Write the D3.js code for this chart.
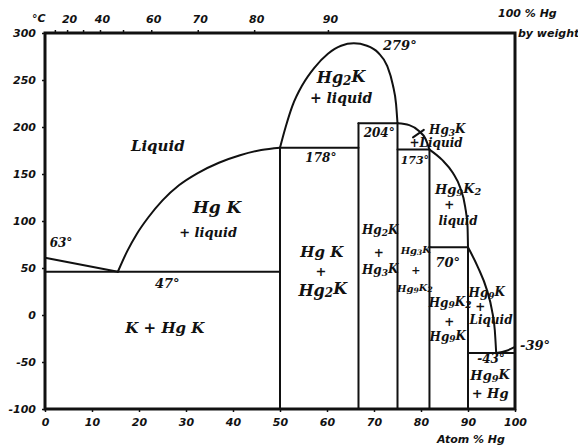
<!DOCTYPE html>
<html>
<head>
<meta charset="utf-8">
<script src="https://cdn.jsdelivr.net/npm/d3@7"></script>
<style>
	body { margin: 0; background: #fff; }
	svg text { font-family: "DejaVu Serif", serif; font-style: italic; font-weight: bold; fill: #111; }
	.tick text, .axis-note { font-family: "DejaVu Sans", sans-serif; font-size: 11px; }
	.phase { fill: none; stroke: #111; stroke-width: 2; stroke-linejoin: round; stroke-linecap: round; }
</style>
</head>
<body>
<svg width="578" height="447"></svg>
<script>
/*
 * K - Hg phase diagram. Composition in atom % Hg on the x axis,
 * temperature in degrees C on the y axis, weight % Hg along the top.
 */
const atomTicks = [0, 10, 20, 30, 40, 50, 60, 70, 80, 90, 100];
const tempTicks = [-100, -50, 0, 50, 100, 150, 200, 250, 300];
const weightTicks = [10, 20, 30, 40, 50, 60, 70, 80, 90];
const weightTickAtom = [2.1, 4.7, 8.1, 11.7, 16.6, 22.6, 32.5, 44.5, 60.2];	// where each weight % falls in atom %
const weightLabeled = [20, 40, 60, 70, 80, 90];

// compounds: composition and the temperature where their vertical line stops
const compoundAtom = [50, 66.7, 75, 81.8, 90];		// HgK, Hg2K, Hg3K, Hg9K2, Hg9K
const compoundTop = [178, 204, 204, 176, 72];

// horizontal (invariant) lines: [from %, to %, temperature]
const invariants = [[0, 50, 46], [50, 66.7, 178], [66.7, 75, 204], [75, 81.8, 176], [81.8, 90, 72], [90, 100, -40.5]];

// curves, each as [atom %, temperature]
const kLiquidus = [[0, 61], [15.5, 46]];
const hgkLiquidus = [[15.5, 46], [17.5, 68], [19.5, 86], [22, 104], [25, 122], [28.5, 138], [32.5, 151], [37, 162],
	[41.5, 170], [46, 175.5], [50, 178]];
const hg2kDome = [[50, 178], [51.2, 200], [52.6, 222], [54.8, 245], [57.3, 263], [60.2, 278], [63, 286.5], [65.7, 289],
	[68.5, 286.5], [70.9, 279], [72.8, 265], [74, 245], [74.7, 224], [75, 204]];
const hg3kLiquidus = [[75, 204], [77.5, 202], [79.5, 196], [81, 187], [81.8, 176]];
const hg9k2Liquidus = [[81.8, 176], [84.5, 165], [86.8, 151], [88.3, 136], [89.4, 115], [89.9, 94], [90, 72]];
const hg9kLiquidus = [[90, 72], [92.1, 51], [94, 27], [95.1, 5], [95.7, -16], [96, -40.5]];
const hgLiquidus = [[96, -40.5], [98.2, -38], [100, -34]];

// labels inside the diagram: text, atom %, temperature, font size ("_n" marks a subscript)
const labels = [
	["Liquid", 24, 180, 15],
	["Hg K", 36.6, 115, 17],
	["+ liquid", 34.7, 88, 13],
	["63°", 3.4, 76.6, 12],
	["47°", 26, 34, 13],
	["K  +  Hg K", 25.5, -14, 15],
	["Hg_2K", 63, 253, 16],
	["+ liquid", 63, 231, 14],
	["279°", 75.5, 287, 13],
	["204°", 71.1, 194, 12],
	["178°", 58.7, 167, 12],
	["173°", 78.7, 165, 11],
	["Hg_3K", 85.6, 197, 12],
	["+Liquid", 83.2, 183, 12],
	["Hg_9K_2", 87.9, 134, 13],
	["+", 86, 117, 12],
	["liquid", 87.9, 100, 12],
	["70°", 85.7, 56, 13],
	["Hg K", 58.9, 67, 15],
	["+", 58.7, 47, 13],
	["Hg_2K", 59.1, 27, 16],
	["Hg_2K", 71.3, 90, 12],
	["+", 71, 66, 12],
	["Hg_3K", 71.3, 48, 12],
	["Hg_3K", 78.9, 69, 10],
	["+", 78.9, 48, 11],
	["Hg_9K_2", 78.7, 29, 10],
	["Hg_9K_2", 86.2, 13, 12],
	["+", 86, -7, 12],
	["Hg_9K", 85.7, -23, 12],
	["Hg_9K", 94, 23, 12],
	["+", 92.6, 8.5, 12],
	["Liquid", 94.9, -5, 12],
	["-43°", 94.9, -47, 12],
	["Hg_9K", 94.7, -64, 13],
	["+ Hg", 94.7, -83, 13]
];

document.addEventListener("DOMContentLoaded", function() {
	renderDiagram();
});

function renderDiagram() {
	const svg = d3.select("svg");

	const x = d3.scaleLinear().domain([0, 100]).range([45, 515]);
	const y = d3.scaleLinear().domain([-100, 300]).range([409, 33]);

	// every curve runs left to right, so a monotone curve keeps them smooth
	const line = d3.line()
		.x(d => x(d[0]))
		.y(d => y(d[1]))
		.curve(d3.curveMonotoneX);

	// axes (tick marks and labels only; the frame is drawn on its own)
	const bottom = svg.append("g")
		.attr("transform", `translate(0, ${y(-100)})`)
		.call(d3.axisBottom(x).tickValues(atomTicks).tickSize(3).tickPadding(6));

	const left = svg.append("g")
		.attr("transform", `translate(${x(0)}, 0)`)
		.call(d3.axisLeft(y).tickValues(tempTicks).tickSize(3).tickPadding(6)
			.tickFormat(d => d < 0 ? "-" + Math.abs(d) : d));

	const top = svg.append("g")
		.attr("transform", `translate(0, ${y(300)})`)
		.call(d3.axisTop(x).tickValues(weightTickAtom).tickSize(3).tickPadding(7)
			.tickFormat((d, i) => weightLabeled.includes(weightTicks[i]) ? weightTicks[i] : ""));

	[bottom, left, top].forEach(g => {
		g.select(".domain").remove();
		g.selectAll(".tick line").attr("stroke", "#111").attr("stroke-width", 1.5);
		g.selectAll(".tick text").attr("fill", "#111");
	});
	top.selectAll(".tick text").attr("dx", 2);

	// frame
	svg.append("rect")
		.attr("x", x(0))
		.attr("y", y(300))
		.attr("width", x(100) - x(0))
		.attr("height", y(-100) - y(300))
		.attr("fill", "none")
		.attr("stroke", "#111")
		.attr("stroke-width", 3);

	// compound verticals
	compoundAtom.forEach((c, i) => {
		svg.append("path")
			.attr("class", "phase")
			.attr("d", d3.line()([[x(c), y(-100)], [x(c), y(compoundTop[i])]]));
	});

	// invariant horizontals
	invariants.forEach(h => {
		svg.append("path")
			.attr("class", "phase")
			.attr("d", d3.line()([[x(h[0]), y(h[2])], [x(h[1]), y(h[2])]]));
	});

	// liquidus curves
	[kLiquidus, hgkLiquidus, hg2kDome, hg3kLiquidus, hg9k2Liquidus, hg9kLiquidus, hgLiquidus].forEach(c => {
		svg.append("path")
			.attr("class", "phase")
			.attr("d", line(c));
	});

	// leader from the Hg3K label into its small region
	svg.append("path")
		.attr("class", "phase")
		.attr("stroke-width", 1.3)
		.attr("d", d3.line()([[x(78.3), y(189)], [x(80.6), y(197)]]));

	// region labels
	labels.forEach(l => {
		const t = svg.append("text")
			.attr("x", x(l[1]))
			.attr("y", y(l[2]))
			.attr("text-anchor", "middle")
			.attr("dominant-baseline", "central")
			.attr("font-size", l[3]);
		addFormula(t, l[0]);
	});

	// -39° sits outside the frame, left aligned
	svg.append("text")
		.attr("x", x(100) + 5)
		.attr("y", y(-32))
		.attr("dominant-baseline", "central")
		.attr("font-size", 13)
		.text("-39°");

	// axis notes
	svg.append("text").attr("class", "axis-note").attr("x", 32).attr("y", 22).attr("font-size", 11).text("°C");
	svg.append("text").attr("class", "axis-note").attr("x", 498).attr("y", 17).attr("font-size", 11).text("100 % Hg");
	svg.append("text").attr("class", "axis-note").attr("x", 518).attr("y", 37).attr("font-size", 10).text("by weight");
	svg.append("text").attr("class", "axis-note").attr("x", 437).attr("y", 443).attr("font-size", 11).text("Atom % Hg");
}

/*
 * Writes a formula such as "Hg_9K_2" into a text element, lowering the
 * digit after each "_" as a subscript.
 */
function addFormula(text, str) {
	const parts = str.split(/(_\d)/).filter(p => p !== "");
	let lowered = false;
	parts.forEach(p => {
		if (p[0] === "_") {
			text.append("tspan").attr("dy", "0.3em").attr("font-size", "75%").text(p.slice(1));
			lowered = true;
		} else {
			text.append("tspan").attr("dy", lowered ? "-0.3em" : null).text(p);
			lowered = false;
		}
	});
}
</script>
</body>
</html>
